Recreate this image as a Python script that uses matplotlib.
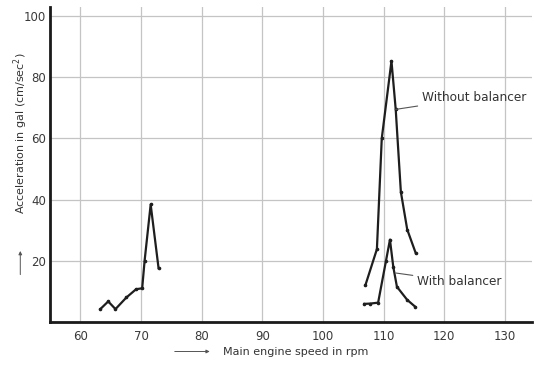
import matplotlib
matplotlib.use("Agg")
import matplotlib.pyplot as plt
from matplotlib.patches import FancyArrowPatch

# Low-speed resonance
low_rpm = [63.3, 64.6, 65.8, 67.6, 69.2, 70.2, 70.6, 71.6, 72.9]
low_acc = [4.2, 6.7, 4.2, 8.0, 10.7, 11.0, 20.0, 38.4, 17.6]

# High-speed resonance without balancer
without_rpm = [107.0, 108.9, 109.7, 111.3, 112.0, 112.85, 113.9, 115.3]
without_acc = [12.0, 23.8, 60.0, 85.3, 69.5, 42.5, 30.2, 22.5]

# High-speed resonance with balancer
with_rpm = [106.8, 107.8, 109.1, 110.4, 111.05, 111.6, 112.2, 113.9, 115.2]
with_acc = [5.9, 6.0, 6.3, 20.0, 26.9, 18.0, 11.5, 7.2, 5.0]

x_ticks = [60, 70, 80, 90, 100, 110, 120, 130]
y_ticks = [20, 40, 60, 80, 100]

fig = plt.figure(figsize=(5.34, 3.65), dpi=100)
ax = fig.add_axes([0.0936, 0.118, 0.903, 0.863])

ax.set_xlim(55.0, 134.5)
ax.set_ylim(0, 103)
ax.set_xticks(x_ticks)
ax.set_yticks(y_ticks)
ax.grid(True, color="#c4c4c4", linewidth=0.9)
ax.set_axisbelow(True)

for s in ["top", "right"]:
    ax.spines[s].set_visible(False)
for s in ["left", "bottom"]:
    ax.spines[s].set_linewidth(2.0)
    ax.spines[s].set_color("#1a1a1a")

ax.tick_params(length=0, labelsize=8.5, colors="#3a3a3a")
ax.tick_params(axis="x", pad=6)
ax.tick_params(axis="y", pad=3)

line_kw = dict(color="#1e1e1e", linewidth=1.6, marker="o", markersize=1.6)
ax.plot(low_rpm, low_acc, **line_kw)
ax.plot(without_rpm, without_acc, **line_kw)
ax.plot(with_rpm, with_acc, **line_kw)

ax.annotate("Without balancer", xy=(112.0, 69.5), xytext=(116.3, 73.4),
            fontsize=8.7, color="#333333", va="center", ha="left",
            arrowprops=dict(arrowstyle="-", color="#555555", linewidth=0.8,
                            shrinkA=1, shrinkB=0))
ax.annotate("With balancer", xy=(112.0, 16.0), xytext=(115.5, 13.1),
            fontsize=8.7, color="#333333", va="center", ha="left",
            arrowprops=dict(arrowstyle="-", color="#555555", linewidth=0.8,
                            shrinkA=1, shrinkB=0))

# Axis titles with leading arrows
fig.text(0.418, 0.035, "Main engine speed in rpm", fontsize=8, color="#333333",
         ha="left", va="center")
fig.patches.append(FancyArrowPatch(
    (0.322, 0.037), (0.398, 0.037), transform=fig.transFigure,
    arrowstyle="-|>", mutation_scale=5, color="#555555", linewidth=0.7))

fig.text(0.038, 0.635, "Acceleration in gal (cm/sec$^2$)", fontsize=8,
         color="#333333", rotation=90, ha="center", va="center")
fig.patches.append(FancyArrowPatch(
    (0.038, 0.24), (0.038, 0.32), transform=fig.transFigure,
    arrowstyle="-|>", mutation_scale=5, color="#555555", linewidth=0.7))

fig.savefig("out.png", dpi=100)
